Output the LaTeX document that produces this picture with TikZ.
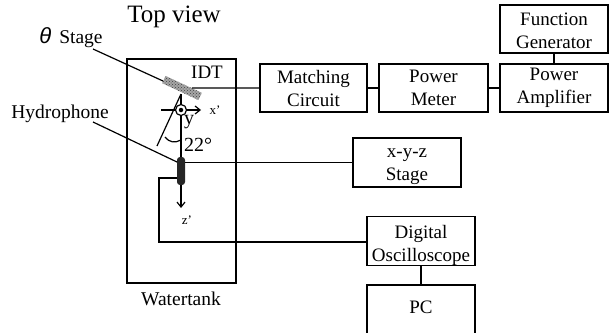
\documentclass[tikz,border=0pt]{standalone}
\usepackage{fontspec}
\setmainfont{Liberation Serif}
\newfontfamily\thetafont{Liberation Sans}
\usetikzlibrary{arrows.meta, positioning, patterns}
\tikzset{
  blockbox/.style={draw, line width=1.2pt, inner sep=0pt, align=center, font=\fontsize{19}{23}\selectfont},
  tag/.style={inner sep=0pt, font=\fontsize{19.5}{22}\selectfont},
  wire/.style={line width=1.2pt},
  thickwire/.style={line width=1.7pt},
  axis/.style={line width=1.2pt, -{Straight Barb[length=5pt,width=8pt]}}
}
\begin{document}
\begin{tikzpicture}[x=1pt, y=-1pt]
      \useasboundingbox (0,0) rectangle (609,332);

      % water tank and labels
      \node[draw, line width=1.7pt, minimum width=109pt, minimum height=224pt, inner sep=0pt] (tank) at (181.5,171) {};
      \node[tag, font=\fontsize{25}{28}\selectfont] (topview) at (174,17) {Top view};
      \node[tag] (watertank) at (181,299) {Watertank};
      \node[tag, font=\fontsize{19}{22}\selectfont] (idt) at (207,72) {IDT};
      \node[tag] (thetastage) at (71,38) {{\thetafont\itshape\fontsize{22}{24}\selectfont θ}\hspace{8pt}Stage};
      \node[tag] (hydrolabel) at (60,114) {Hydrophone};

      % blocks
      \node[blockbox, minimum width=107pt, minimum height=48pt] (matching) at (313.5,88) {Matching\\Circuit};
      \node[blockbox, minimum width=109pt, minimum height=48pt] (meter) at (433.5,88) {Power\\Meter};
      \node[blockbox, minimum width=108pt, minimum height=48pt] (amplifier) at (554,88) {Power\\Amplifier};
      \node[blockbox, minimum width=108pt, minimum height=48pt] (generator) at (554,29) {\rule{0pt}{17pt}Function\\Generator};
      \node[blockbox, minimum width=108pt, minimum height=49pt] (xyz) at (407,162.5) {\rule{0pt}{17pt}x-y-z\\Stage};
      \node[blockbox, minimum width=108pt, minimum height=48pt] (scope) at (421,241) {\rule{0pt}{22pt}Digital\\Oscilloscope};
      \node[blockbox, minimum width=108pt, minimum height=55pt] (pc) at (421,312.5) {PC\rule[-11pt]{0pt}{0pt}};

      % transducer, hydrophone, axes
      \node[fill=black!35, minimum width=40pt, minimum height=8pt, inner sep=0pt, rotate=-25] (stageplate) at (182,88) {};
      \node[pattern=crosshatch dots, pattern color=black!75, minimum width=40pt, minimum height=8pt, inner sep=0pt, rotate=-25] (stage) at (182,88) {};
      \node[fill=black!85, rounded corners=3pt, minimum width=8pt, minimum height=28pt, inner sep=0pt] (hydro) at (181,171) {};
      \coordinate (pivot) at (181,94);
      \coordinate (tilt) at (157,146);
      \coordinate (xstart) at (161,110);
      \coordinate (xend) at (201,110);
      \coordinate (zend) at (181,208);
      \coordinate (stagetip) at (93,49);
      \coordinate (stageend) at (163,81);
      \coordinate (hydrotip) at (93,122);
      \coordinate (hydroend) at (177,162);
      \coordinate (wirecorner) at (159,178);
      \coordinate (wirelow) at (159,242);

      \draw[wire] (pivot) -- (hydro.north);
      \draw[wire] (pivot) -- (tilt);
      \draw[axis] (xstart) -- (xend);
      \draw[axis] (hydro.south) -- (zend);
      \draw[wire] (165,137) .. controls (170,143) and (175,143) .. (181,140);
      \node[draw, circle, fill=white, line width=1.2pt, minimum size=11pt, inner sep=0pt] (ycircle) at (181,110) {};
      \node[fill=black, circle, minimum size=4.5pt, inner sep=0pt] (ydot) at (ycircle) {};

      \node[tag, font=\fontsize{20}{22}\selectfont] (ylabel) at (189,122) {y};
      \node[tag, font=\fontsize{20}{22}\selectfont] (angle) at (198,145) {22°};
      \node[tag, font=\fontsize{13}{15}\selectfont] (xlabel) at (215,110) {x’};
      \node[tag, font=\fontsize{13}{15}\selectfont] (zlabel) at (187,220) {z’};

      % connectors
      \draw[wire] (stagetip) -- (stageend);
      \draw[wire] (hydrotip) -- (hydroend);
      \draw[wire] (stage) -- (matching);
      \draw[thickwire] (matching) -- (meter);
      \draw[thickwire] (meter) -- (amplifier);
      \draw[wire] (generator) -- (amplifier);
      \draw[wire] (hydro.east |- xyz.west) -- (xyz.west);
      \draw[wire] (hydro.west |- wirecorner) -- (wirecorner) -- (wirelow) -- (wirelow -| scope.west);
      \draw[wire] (scope) -- (pc);
    \end{tikzpicture}
\end{document}
